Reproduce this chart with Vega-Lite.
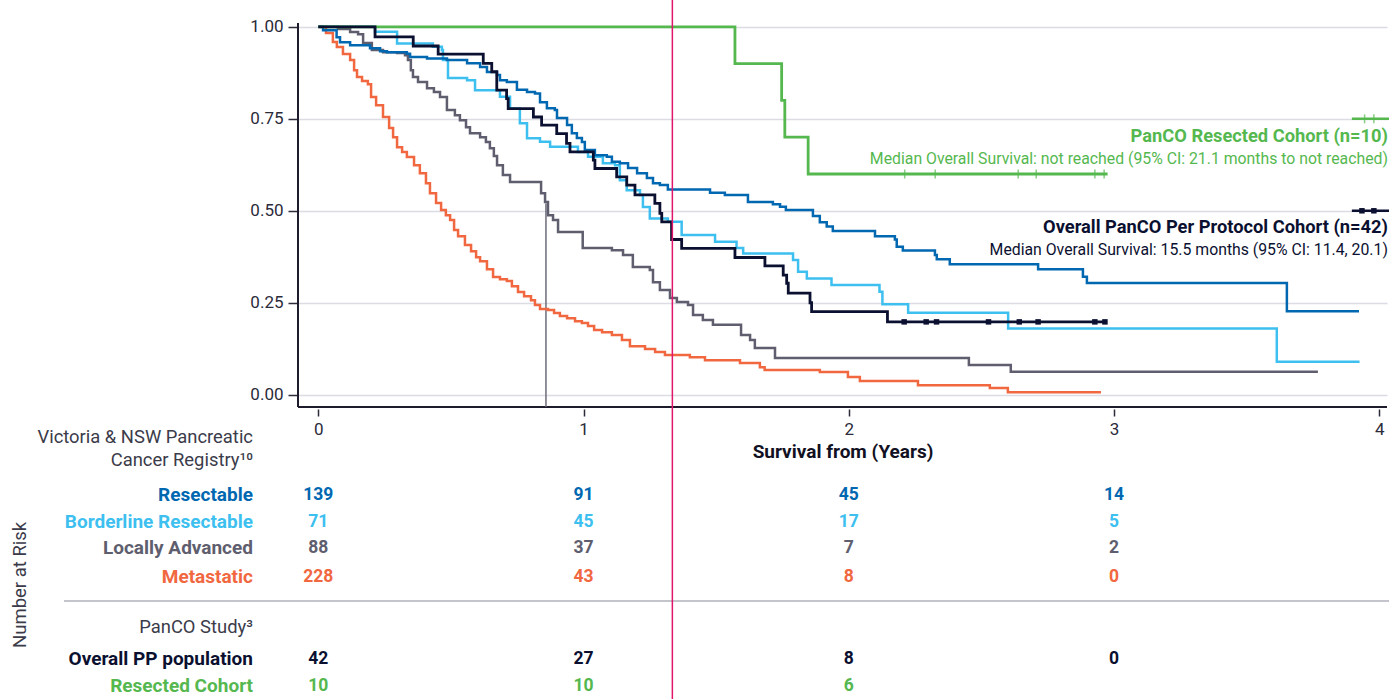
{
  "$schema": "https://vega.github.io/schema/vega-lite/v6.json",
  "width": 1089,
  "height": 384,
  "autosize": {"type": "none"},
  "padding": {"left": 298, "top": 23, "right": 2, "bottom": 292},
  "background": "white",
  "config": {"view": {"stroke": null}, "font": "Roboto"},
  "datasets": {
    "registry": [
      {"g":"Metastatic","x":0,"y":1},{"g":"Metastatic","x":0.029,"y":0.983},{"g":"Metastatic","x":0.055,"y":0.959},{"g":"Metastatic","x":0.07,"y":0.945},{"g":"Metastatic","x":0.093,"y":0.926},{"g":"Metastatic","x":0.12,"y":0.91},{"g":"Metastatic","x":0.135,"y":0.882},{"g":"Metastatic","x":0.146,"y":0.864},{"g":"Metastatic","x":0.165,"y":0.853},{"g":"Metastatic","x":0.187,"y":0.844},{"g":"Metastatic","x":0.199,"y":0.809},{"g":"Metastatic","x":0.218,"y":0.787},{"g":"Metastatic","x":0.244,"y":0.755},{"g":"Metastatic","x":0.267,"y":0.725},{"g":"Metastatic","x":0.282,"y":0.7},{"g":"Metastatic","x":0.297,"y":0.673},{"g":"Metastatic","x":0.316,"y":0.66},{"g":"Metastatic","x":0.334,"y":0.646},{"g":"Metastatic","x":0.361,"y":0.624},{"g":"Metastatic","x":0.383,"y":0.602},{"g":"Metastatic","x":0.406,"y":0.575},{"g":"Metastatic","x":0.421,"y":0.548},{"g":"Metastatic","x":0.444,"y":0.521},{"g":"Metastatic","x":0.463,"y":0.502},{"g":"Metastatic","x":0.481,"y":0.488},{"g":"Metastatic","x":0.497,"y":0.475},{"g":"Metastatic","x":0.512,"y":0.448},{"g":"Metastatic","x":0.527,"y":0.431},{"g":"Metastatic","x":0.553,"y":0.407},{"g":"Metastatic","x":0.576,"y":0.39},{"g":"Metastatic","x":0.595,"y":0.374},{"g":"Metastatic","x":0.61,"y":0.363},{"g":"Metastatic","x":0.636,"y":0.341},{"g":"Metastatic","x":0.659,"y":0.32},{"g":"Metastatic","x":0.685,"y":0.314},{"g":"Metastatic","x":0.711,"y":0.309},{"g":"Metastatic","x":0.73,"y":0.295},{"g":"Metastatic","x":0.753,"y":0.279},{"g":"Metastatic","x":0.776,"y":0.268},{"g":"Metastatic","x":0.802,"y":0.257},{"g":"Metastatic","x":0.817,"y":0.244},{"g":"Metastatic","x":0.836,"y":0.233},{"g":"Metastatic","x":0.866,"y":0.23},{"g":"Metastatic","x":0.889,"y":0.222},{"g":"Metastatic","x":0.911,"y":0.214},{"g":"Metastatic","x":0.938,"y":0.208},{"g":"Metastatic","x":0.968,"y":0.2},{"g":"Metastatic","x":0.994,"y":0.195},{"g":"Metastatic","x":1.017,"y":0.187},{"g":"Metastatic","x":1.04,"y":0.176},{"g":"Metastatic","x":1.07,"y":0.17},{"g":"Metastatic","x":1.107,"y":0.162},{"g":"Metastatic","x":1.145,"y":0.149},{"g":"Metastatic","x":1.175,"y":0.132},{"g":"Metastatic","x":1.232,"y":0.124},{"g":"Metastatic","x":1.27,"y":0.116},{"g":"Metastatic","x":1.307,"y":0.108},{"g":"Metastatic","x":1.401,"y":0.102},{"g":"Metastatic","x":1.458,"y":0.094},{"g":"Metastatic","x":1.59,"y":0.086},{"g":"Metastatic","x":1.665,"y":0.075},{"g":"Metastatic","x":1.683,"y":0.067},{"g":"Metastatic","x":1.891,"y":0.062},{"g":"Metastatic","x":1.997,"y":0.048},{"g":"Metastatic","x":2.042,"y":0.037},{"g":"Metastatic","x":2.261,"y":0.026},{"g":"Metastatic","x":2.532,"y":0.018},{"g":"Metastatic","x":2.6,"y":0.007},{"g":"Metastatic","x":2.951,"y":0.007},
      {"g":"Locally Advanced","x":0,"y":1},{"g":"Locally Advanced","x":0.074,"y":0.994},{"g":"Locally Advanced","x":0.12,"y":0.986},{"g":"Locally Advanced","x":0.15,"y":0.98},{"g":"Locally Advanced","x":0.169,"y":0.956},{"g":"Locally Advanced","x":0.202,"y":0.937},{"g":"Locally Advanced","x":0.244,"y":0.931},{"g":"Locally Advanced","x":0.297,"y":0.929},{"g":"Locally Advanced","x":0.327,"y":0.923},{"g":"Locally Advanced","x":0.338,"y":0.91},{"g":"Locally Advanced","x":0.349,"y":0.882},{"g":"Locally Advanced","x":0.357,"y":0.864},{"g":"Locally Advanced","x":0.376,"y":0.85},{"g":"Locally Advanced","x":0.41,"y":0.833},{"g":"Locally Advanced","x":0.436,"y":0.823},{"g":"Locally Advanced","x":0.459,"y":0.809},{"g":"Locally Advanced","x":0.485,"y":0.774},{"g":"Locally Advanced","x":0.515,"y":0.76},{"g":"Locally Advanced","x":0.534,"y":0.746},{"g":"Locally Advanced","x":0.557,"y":0.727},{"g":"Locally Advanced","x":0.572,"y":0.711},{"g":"Locally Advanced","x":0.61,"y":0.7},{"g":"Locally Advanced","x":0.632,"y":0.687},{"g":"Locally Advanced","x":0.647,"y":0.67},{"g":"Locally Advanced","x":0.662,"y":0.649},{"g":"Locally Advanced","x":0.674,"y":0.624},{"g":"Locally Advanced","x":0.696,"y":0.597},{"g":"Locally Advanced","x":0.723,"y":0.578},{"g":"Locally Advanced","x":0.84,"y":0.548},{"g":"Locally Advanced","x":0.855,"y":0.524},{"g":"Locally Advanced","x":0.866,"y":0.488},{"g":"Locally Advanced","x":0.885,"y":0.475},{"g":"Locally Advanced","x":0.904,"y":0.442},{"g":"Locally Advanced","x":0.997,"y":0.399},{"g":"Locally Advanced","x":1.107,"y":0.393},{"g":"Locally Advanced","x":1.149,"y":0.38},{"g":"Locally Advanced","x":1.186,"y":0.347},{"g":"Locally Advanced","x":1.25,"y":0.339},{"g":"Locally Advanced","x":1.262,"y":0.306},{"g":"Locally Advanced","x":1.288,"y":0.285},{"g":"Locally Advanced","x":1.326,"y":0.263},{"g":"Locally Advanced","x":1.352,"y":0.252},{"g":"Locally Advanced","x":1.394,"y":0.244},{"g":"Locally Advanced","x":1.413,"y":0.217},{"g":"Locally Advanced","x":1.45,"y":0.203},{"g":"Locally Advanced","x":1.488,"y":0.19},{"g":"Locally Advanced","x":1.594,"y":0.162},{"g":"Locally Advanced","x":1.628,"y":0.149},{"g":"Locally Advanced","x":1.646,"y":0.127},{"g":"Locally Advanced","x":1.722,"y":0.1},{"g":"Locally Advanced","x":2.453,"y":0.081},{"g":"Locally Advanced","x":2.611,"y":0.0625},{"g":"Locally Advanced","x":3.769,"y":0.0625},
      {"g":"Borderline Resectable","x":0,"y":1},{"g":"Borderline Resectable","x":0.214,"y":0.987},{"g":"Borderline Resectable","x":0.297,"y":0.955},{"g":"Borderline Resectable","x":0.432,"y":0.946},{"g":"Borderline Resectable","x":0.466,"y":0.937},{"g":"Borderline Resectable","x":0.47,"y":0.91},{"g":"Borderline Resectable","x":0.489,"y":0.861},{"g":"Borderline Resectable","x":0.561,"y":0.855},{"g":"Borderline Resectable","x":0.591,"y":0.828},{"g":"Borderline Resectable","x":0.685,"y":0.81},{"g":"Borderline Resectable","x":0.723,"y":0.778},{"g":"Borderline Resectable","x":0.76,"y":0.738},{"g":"Borderline Resectable","x":0.787,"y":0.697},{"g":"Borderline Resectable","x":0.836,"y":0.688},{"g":"Borderline Resectable","x":0.874,"y":0.674},{"g":"Borderline Resectable","x":0.979,"y":0.66},{"g":"Borderline Resectable","x":1.017,"y":0.647},{"g":"Borderline Resectable","x":1.073,"y":0.629},{"g":"Borderline Resectable","x":1.119,"y":0.624},{"g":"Borderline Resectable","x":1.137,"y":0.583},{"g":"Borderline Resectable","x":1.163,"y":0.556},{"g":"Borderline Resectable","x":1.213,"y":0.543},{"g":"Borderline Resectable","x":1.224,"y":0.51},{"g":"Borderline Resectable","x":1.25,"y":0.479},{"g":"Borderline Resectable","x":1.318,"y":0.47},{"g":"Borderline Resectable","x":1.37,"y":0.434},{"g":"Borderline Resectable","x":1.496,"y":0.416},{"g":"Borderline Resectable","x":1.577,"y":0.399},{"g":"Borderline Resectable","x":1.602,"y":0.384},{"g":"Borderline Resectable","x":1.79,"y":0.366},{"g":"Borderline Resectable","x":1.809,"y":0.334},{"g":"Borderline Resectable","x":1.842,"y":0.316},{"g":"Borderline Resectable","x":1.935,"y":0.298},{"g":"Borderline Resectable","x":2.116,"y":0.28},{"g":"Borderline Resectable","x":2.127,"y":0.246},{"g":"Borderline Resectable","x":2.224,"y":0.223},{"g":"Borderline Resectable","x":2.601,"y":0.18},{"g":"Borderline Resectable","x":3.614,"y":0.0897},{"g":"Borderline Resectable","x":3.926,"y":0.0897},
      {"g":"Resectable","x":0,"y":1},{"g":"Resectable","x":0.018,"y":0.991},{"g":"Resectable","x":0.069,"y":0.972},{"g":"Resectable","x":0.082,"y":0.958},{"g":"Resectable","x":0.12,"y":0.95},{"g":"Resectable","x":0.195,"y":0.942},{"g":"Resectable","x":0.233,"y":0.934},{"g":"Resectable","x":0.259,"y":0.931},{"g":"Resectable","x":0.334,"y":0.927},{"g":"Resectable","x":0.346,"y":0.918},{"g":"Resectable","x":0.41,"y":0.914},{"g":"Resectable","x":0.485,"y":0.91},{"g":"Resectable","x":0.561,"y":0.901},{"g":"Resectable","x":0.61,"y":0.891},{"g":"Resectable","x":0.636,"y":0.877},{"g":"Resectable","x":0.674,"y":0.869},{"g":"Resectable","x":0.685,"y":0.855},{"g":"Resectable","x":0.711,"y":0.85},{"g":"Resectable","x":0.749,"y":0.829},{"g":"Resectable","x":0.787,"y":0.823},{"g":"Resectable","x":0.817,"y":0.819},{"g":"Resectable","x":0.836,"y":0.795},{"g":"Resectable","x":0.862,"y":0.779},{"g":"Resectable","x":0.892,"y":0.774},{"g":"Resectable","x":0.9,"y":0.752},{"g":"Resectable","x":0.938,"y":0.733},{"g":"Resectable","x":0.956,"y":0.711},{"g":"Resectable","x":0.975,"y":0.698},{"g":"Resectable","x":0.994,"y":0.687},{"g":"Resectable","x":1.005,"y":0.665},{"g":"Resectable","x":1.043,"y":0.651},{"g":"Resectable","x":1.088,"y":0.647},{"g":"Resectable","x":1.107,"y":0.633},{"g":"Resectable","x":1.137,"y":0.629},{"g":"Resectable","x":1.168,"y":0.616},{"g":"Resectable","x":1.202,"y":0.602},{"g":"Resectable","x":1.239,"y":0.589},{"g":"Resectable","x":1.262,"y":0.575},{"g":"Resectable","x":1.288,"y":0.57},{"g":"Resectable","x":1.318,"y":0.558},{"g":"Resectable","x":1.477,"y":0.549},{"g":"Resectable","x":1.533,"y":0.543},{"g":"Resectable","x":1.62,"y":0.524},{"g":"Resectable","x":1.714,"y":0.518},{"g":"Resectable","x":1.741,"y":0.511},{"g":"Resectable","x":1.763,"y":0.502},{"g":"Resectable","x":1.865,"y":0.486},{"g":"Resectable","x":1.891,"y":0.469},{"g":"Resectable","x":1.917,"y":0.457},{"g":"Resectable","x":1.94,"y":0.445},{"g":"Resectable","x":2.099,"y":0.431},{"g":"Resectable","x":2.174,"y":0.422},{"g":"Resectable","x":2.181,"y":0.402},{"g":"Resectable","x":2.204,"y":0.392},{"g":"Resectable","x":2.325,"y":0.38},{"g":"Resectable","x":2.332,"y":0.368},{"g":"Resectable","x":2.381,"y":0.355},{"g":"Resectable","x":2.714,"y":0.341},{"g":"Resectable","x":2.883,"y":0.321},{"g":"Resectable","x":2.898,"y":0.304},{"g":"Resectable","x":3.652,"y":0.227},{"g":"Resectable","x":3.924,"y":0.227}
    ],
    "panco": [
      {"g":"Resected Cohort","x":0,"y":1},{"g":"Resected Cohort","x":1.571,"y":0.9},{"g":"Resected Cohort","x":1.747,"y":0.8},{"g":"Resected Cohort","x":1.759,"y":0.7},{"g":"Resected Cohort","x":1.847,"y":0.6},{"g":"Resected Cohort","x":2.976,"y":0.6},
      {"g":"Overall PP","x":0,"y":1},{"g":"Overall PP","x":0.214,"y":0.973},{"g":"Overall PP","x":0.358,"y":0.948},{"g":"Overall PP","x":0.452,"y":0.926},{"g":"Overall PP","x":0.622,"y":0.901},{"g":"Overall PP","x":0.654,"y":0.878},{"g":"Overall PP","x":0.673,"y":0.828},{"g":"Overall PP","x":0.71,"y":0.805},{"g":"Overall PP","x":0.716,"y":0.778},{"g":"Overall PP","x":0.811,"y":0.755},{"g":"Overall PP","x":0.842,"y":0.733},{"g":"Overall PP","x":0.899,"y":0.71},{"g":"Overall PP","x":0.936,"y":0.683},{"g":"Overall PP","x":0.949,"y":0.66},{"g":"Overall PP","x":1.037,"y":0.638},{"g":"Overall PP","x":1.043,"y":0.615},{"g":"Overall PP","x":1.125,"y":0.592},{"g":"Overall PP","x":1.163,"y":0.57},{"g":"Overall PP","x":1.194,"y":0.543},{"g":"Overall PP","x":1.269,"y":0.52},{"g":"Overall PP","x":1.288,"y":0.493},{"g":"Overall PP","x":1.295,"y":0.47},{"g":"Overall PP","x":1.332,"y":0.422},{"g":"Overall PP","x":1.37,"y":0.398},{"g":"Overall PP","x":1.571,"y":0.373},{"g":"Overall PP","x":1.684,"y":0.35},{"g":"Overall PP","x":1.753,"y":0.325},{"g":"Overall PP","x":1.766,"y":0.303},{"g":"Overall PP","x":1.772,"y":0.276},{"g":"Overall PP","x":1.854,"y":0.25},{"g":"Overall PP","x":1.86,"y":0.226},{"g":"Overall PP","x":2.146,"y":0.198},{"g":"Overall PP","x":2.966,"y":0.198}
    ],
    "censorGreen": [
      {"g":"Resected Cohort","x":2.211,"y":0.6},{"g":"Resected Cohort","x":2.326,"y":0.6},{"g":"Resected Cohort","x":2.639,"y":0.6},{"g":"Resected Cohort","x":2.707,"y":0.6},{"g":"Resected Cohort","x":2.928,"y":0.6},{"g":"Resected Cohort","x":2.963,"y":0.6},
      {"g":"Resected Cohort","x":3.945,"y":0.75},{"g":"Resected Cohort","x":3.98,"y":0.75}
    ],
    "censorBlack": [
      {"g":"Overall PP","x":2.209,"y":0.198},{"g":"Overall PP","x":2.292,"y":0.198},{"g":"Overall PP","x":2.331,"y":0.198},{"g":"Overall PP","x":2.527,"y":0.198},{"g":"Overall PP","x":2.643,"y":0.198},{"g":"Overall PP","x":2.714,"y":0.198},{"g":"Overall PP","x":2.928,"y":0.198},{"g":"Overall PP","x":2.966,"y":0.198},
      {"g":"Overall PP","x":3.935,"y":0.5},{"g":"Overall PP","x":3.98,"y":0.5}
    ],
    "legendLines": [
      {"g":"Resected Cohort","x":3.897,"x2":4.04,"y":0.75,"y2":0.75},
      {"g":"Overall PP","x":3.897,"x2":4.04,"y":0.5,"y2":0.5}
    ],
    "texts": [
      {"k":"ab","x":4.033,"y":0.7,"text":"PanCO Resected Cohort (n=10)","g":"Resected Cohort"},
      {"k":"an","x":4.033,"y":0.64,"text":"Median Overall Survival: not reached (95% CI: 21.1 months to not reached)","g":"Resected Cohort"},
      {"k":"ab","x":4.033,"y":0.453,"text":"Overall PanCO Per Protocol Cohort (n=42)","g":"Overall PP"},
      {"k":"an","x":4.033,"y":0.393,"text":"Median Overall Survival: 15.5 months (95% CI: 11.4, 20.1)","g":"Overall PP"},
      {"k":"lb","x":-0.2462,"y":-0.2726,"text":"Resectable","g":"Resectable"},
      {"k":"lb","x":-0.2462,"y":-0.346,"text":"Borderline Resectable","g":"Borderline Resectable"},
      {"k":"lb","x":-0.2462,"y":-0.4168,"text":"Locally Advanced","g":"Locally Advanced"},
      {"k":"lb","x":-0.2462,"y":-0.4954,"text":"Metastatic","g":"Metastatic"},
      {"k":"lb","x":-0.2462,"y":-0.7182,"text":"Overall PP population","g":"Overall PP"},
      {"k":"lb","x":-0.2462,"y":-0.7916,"text":"Resected Cohort","g":"Resected Cohort"},
      {"k":"ln","x":-0.2462,"y":-0.1149,"text":"Victoria & NSW Pancreatic","g":"Label"},
      {"k":"ln","x":-0.2462,"y":-0.1774,"text":"Cancer Registry¹⁰","g":"Label"},
      {"k":"ln","x":-0.2462,"y":-0.6313,"text":"PanCO Study³","g":"Label"},
      {"k":"rot","x":-1.1246,"y":-0.517,"text":"Number at Risk","g":"Label"},
      {"k":"num","x":0,"y":-0.2726,"text":"139","g":"Resectable"},{"k":"num","x":1,"y":-0.2726,"text":"91","g":"Resectable"},{"k":"num","x":2,"y":-0.2726,"text":"45","g":"Resectable"},{"k":"num","x":3,"y":-0.2726,"text":"14","g":"Resectable"},
      {"k":"num","x":0,"y":-0.346,"text":"71","g":"Borderline Resectable"},{"k":"num","x":1,"y":-0.346,"text":"45","g":"Borderline Resectable"},{"k":"num","x":2,"y":-0.346,"text":"17","g":"Borderline Resectable"},{"k":"num","x":3,"y":-0.346,"text":"5","g":"Borderline Resectable"},
      {"k":"num","x":0,"y":-0.4168,"text":"88","g":"Locally Advanced"},{"k":"num","x":1,"y":-0.4168,"text":"37","g":"Locally Advanced"},{"k":"num","x":2,"y":-0.4168,"text":"7","g":"Locally Advanced"},{"k":"num","x":3,"y":-0.4168,"text":"2","g":"Locally Advanced"},
      {"k":"num","x":0,"y":-0.4954,"text":"228","g":"Metastatic"},{"k":"num","x":1,"y":-0.4954,"text":"43","g":"Metastatic"},{"k":"num","x":2,"y":-0.4954,"text":"8","g":"Metastatic"},{"k":"num","x":3,"y":-0.4954,"text":"0","g":"Metastatic"},
      {"k":"num","x":0,"y":-0.7182,"text":"42","g":"Overall PP"},{"k":"num","x":1,"y":-0.7182,"text":"27","g":"Overall PP"},{"k":"num","x":2,"y":-0.7182,"text":"8","g":"Overall PP"},{"k":"num","x":3,"y":-0.7182,"text":"0","g":"Overall PP"},
      {"k":"num","x":0,"y":-0.7916,"text":"10","g":"Resected Cohort"},{"k":"num","x":1,"y":-0.7916,"text":"10","g":"Resected Cohort"},{"k":"num","x":2,"y":-0.7916,"text":"6","g":"Resected Cohort"}
    ]
  },
  "encoding": {
    "x": {
      "field": "x", "type": "quantitative",
      "scale": {"domain": [-0.0765, 4.0295], "nice": false, "zero": false},
      "axis": {"values": [0, 1, 2, 3, 4], "format": "d", "domain": false, "grid": false, "ticks": true, "tickSize": 7, "tickWidth": 1.5, "tickColor": "#2b2b3a", "offset": 2, "labelFontSize": 17, "labelColor": "#2b2b3a", "labelPadding": 5, "labelFont": "Roboto", "title": "Survival from (Years)", "titleFont": "Roboto", "titleFontSize": 19, "titleFontWeight": "bold", "titleColor": "#111122", "titlePadding": 5}
    },
    "y": {
      "field": "y", "type": "quantitative",
      "scale": {"domain": [-0.0334, 1.0105], "nice": false, "zero": false},
      "axis": {"values": [0, 0.25, 0.5, 0.75, 1], "format": ".2f", "domain": false, "grid": true, "gridColor": "#dcdce4", "gridWidth": 1.5, "ticks": true, "tickSize": 9, "tickWidth": 1.5, "tickColor": "#2b2b3a", "offset": 1, "labelFontSize": 17, "labelColor": "#2b2b3a", "labelPadding": 5, "labelFont": "Roboto", "title": null}
    },
    "color": {
      "field": "g", "type": "nominal",
      "scale": {"domain": ["Resectable", "Borderline Resectable", "Locally Advanced", "Metastatic", "Overall PP", "Resected Cohort", "Label"], "range": ["#0067b1", "#3dbff0", "#5e5e6e", "#f1673f", "#0b1030", "#55b84f", "#3b3b4a"]},
      "legend": null
    }
  },
  "layer": [
    {
      "data": {"values": [
        {"x": -0.0765, "y": -0.0334, "x2": -0.0765, "y2": 1.0105},
        {"x": -0.0765, "y": -0.0334, "x2": 4.0295, "y2": -0.0334}
      ]},
      "mark": {"type": "rule", "strokeWidth": 2},
      "encoding": {"x2": {"field": "x2"}, "y2": {"field": "y2"}, "color": {"value": "#1c1c2c"}}
    },
    {
      "data": {"values": [{"x": -0.9587, "y": -0.5606, "x2": 4.04, "y2": -0.5606}]},
      "mark": {"type": "rule", "strokeWidth": 2},
      "encoding": {"x2": {"field": "x2"}, "y2": {"field": "y2"}, "color": {"value": "#c4c4cc"}}
    },
    {
      "data": {"values": [{"x": 0.8584, "y": 0.52, "x2": 0.8584, "y2": -0.0334}]},
      "mark": {"type": "rule", "strokeWidth": 1.5},
      "encoding": {"x2": {"field": "x2"}, "y2": {"field": "y2"}, "color": {"value": "#6c6c7a"}}
    },
    {
      "data": {"name": "registry"},
      "mark": {"type": "line", "interpolate": "step-after", "strokeWidth": 2.5},
      "encoding": {}
    },
    {
      "data": {"name": "panco"},
      "mark": {"type": "line", "interpolate": "step-after", "strokeWidth": 2.8},
      "encoding": {}
    },
    {
      "data": {"name": "legendLines"},
      "mark": {"type": "rule", "strokeWidth": 2.5},
      "encoding": {"x2": {"field": "x2"}, "y2": {"field": "y2"}}
    },
    {
      "data": {"name": "censorGreen"},
      "mark": {"type": "tick", "orient": "vertical", "size": 9, "thickness": 1.5},
      "encoding": {}
    },
    {
      "data": {"name": "censorBlack"},
      "mark": {"type": "point", "shape": "square", "filled": true, "size": 30, "opacity": 1},
      "encoding": {}
    },
    {
      "data": {"name": "texts"},
      "transform": [{"filter": "datum.k === 'ab'"}],
      "mark": {"type": "text", "align": "right", "baseline": "middle", "font": "Roboto", "fontSize": 18.3, "fontWeight": "bold"},
      "encoding": {"text": {"field": "text"}}
    },
    {
      "data": {"name": "texts"},
      "transform": [{"filter": "datum.k === 'an'"}],
      "mark": {"type": "text", "align": "right", "baseline": "middle", "font": "Roboto", "fontSize": 15.8},
      "encoding": {"text": {"field": "text"}}
    },
    {
      "data": {"name": "texts"},
      "transform": [{"filter": "datum.k === 'lb'"}],
      "mark": {"type": "text", "align": "right", "baseline": "middle", "font": "Roboto", "fontSize": 19, "fontWeight": "bold"},
      "encoding": {"text": {"field": "text"}}
    },
    {
      "data": {"name": "texts"},
      "transform": [{"filter": "datum.k === 'ln'"}],
      "mark": {"type": "text", "align": "right", "baseline": "middle", "font": "Roboto", "fontSize": 18.4},
      "encoding": {"text": {"field": "text"}}
    },
    {
      "data": {"name": "texts"},
      "transform": [{"filter": "datum.k === 'rot'"}],
      "mark": {"type": "text", "align": "center", "baseline": "middle", "font": "Roboto", "fontSize": 18.5, "angle": 270},
      "encoding": {"text": {"field": "text"}}
    },
    {
      "data": {"name": "texts"},
      "transform": [{"filter": "datum.k === 'num'"}],
      "mark": {"type": "text", "align": "center", "baseline": "middle", "font": "Roboto", "fontSize": 17.5, "fontWeight": "bold"},
      "encoding": {"text": {"field": "text"}}
    },
    {
      "data": {"values": [{"x": 1.335, "y": 1.08, "x2": 1.335, "y2": -0.84}]},
      "mark": {"type": "rule", "strokeWidth": 1.5},
      "encoding": {"x2": {"field": "x2"}, "y2": {"field": "y2"}, "color": {"value": "#e0156b"}}
    }
  ]
}
